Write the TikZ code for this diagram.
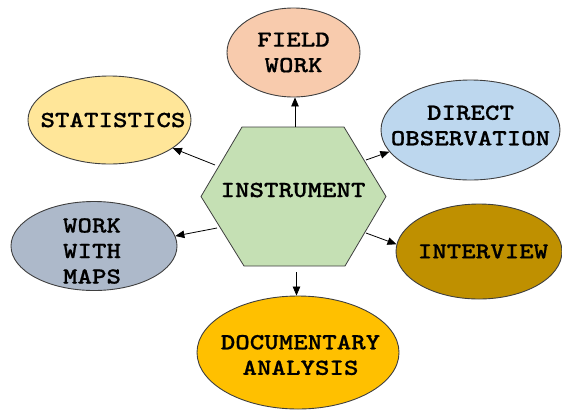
\documentclass[tikz,border=0pt]{standalone}
\usepackage{fontspec}
\newfontfamily\courfont{lmmonolt10-bold.otf}[FakeStretch=1.2,FakeBold=0.6]
\usetikzlibrary{arrows.meta,shapes.geometric}
\definecolor{edgec}{HTML}{3F3F3F}
\definecolor{cfw}{HTML}{F8CBAD}
\definecolor{cst}{HTML}{FFE699}
\definecolor{cdo}{HTML}{BDD7EE}
\definecolor{cwm}{HTML}{ADB9CA}
\definecolor{civ}{HTML}{BF9000}
\definecolor{cdoc}{HTML}{FFC000}
\definecolor{chex}{HTML}{C5E0B4}
\begin{document}
\begin{tikzpicture}[x=1pt,y=-1pt,
  bub/.style={ellipse,draw=edgec,line width=0.9pt,inner sep=0pt},
  lbl/.style={font=\courfont\fontsize{23}{25.5}\selectfont,align=center,text=black},
  arr/.style={-{Triangle[length=9pt,width=7.5pt]},line width=0.8pt,black}]
\useasboundingbox (0,0) rectangle (562,410);
% hexagon
\draw[draw=edgec,line width=0.8pt,fill=chex] (242,127) -- (344,127) -- (386,196.5) -- (345,266) -- (244,266) -- (201,196.5) -- cycle;
\node[lbl] (hex) at (293,190) {INSTRUMENT};
% ellipses
\node[bub,fill=cfw,minimum width=133,minimum height=89,label={[lbl]center:{FIELD\\WORK}}] (fw) at (293.5,52.5) {};
\node[bub,fill=cst,minimum width=163,minimum height=88,label={[lbl,xshift=3.5pt]center:STATISTICS}] (st) at (109.5,120) {};
\node[bub,fill=cdo,minimum width=179,minimum height=100,label={[lbl,yshift=4.5pt]center:{DIRECT\\OBSERVATION}}] (do) at (470.5,130) {};
\node[bub,fill=cwm,minimum width=166,minimum height=89,label={[lbl,xshift=-2pt,yshift=-5pt]center:{WORK\\WITH\\MAPS}}] (wm) at (94,246) {};
\node[bub,fill=civ,minimum width=166,minimum height=95,label={[lbl,xshift=4pt]center:INTERVIEW}] (iv) at (479,251.5) {};
\node[bub,fill=cdoc,minimum width=202,minimum height=113,label={[lbl,xshift=2.5pt,yshift=-2.5pt]center:{DOCUMENTARY\\ANALYSIS}}] (doc) at (298,352.5) {};
% arrows
\coordinate (s1) at (295,127);
\coordinate (s2) at (215,165);
\coordinate (s3) at (366,160);
\coordinate (s4) at (217,228);
\coordinate (s5) at (366,233);
\coordinate (s6) at (296.5,272);
\draw[arr] (s1) -- (s1 |- fw.south);
\draw[arr] (s2) -- (st.-24);
\draw[arr] (s3) -- (do.195);
\draw[arr] (s4) -- (wm.7);
\draw[arr] (s5) -- (iv.175);
\draw[arr] (s6) -- (s6 |- doc.north);
\end{tikzpicture}
\end{document}
